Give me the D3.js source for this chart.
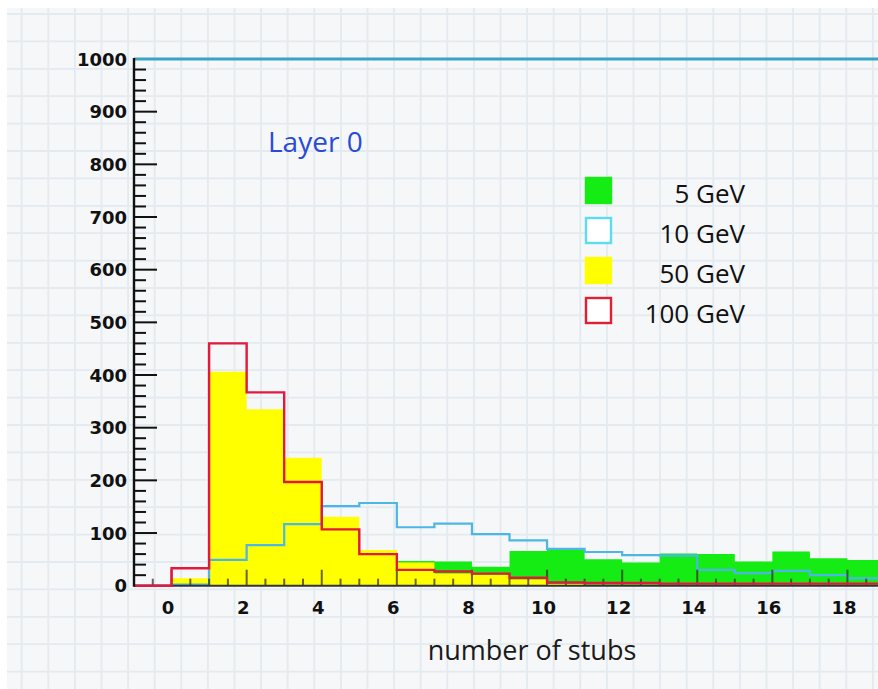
<!DOCTYPE html>
<html>
<head>
<meta charset="utf-8">
<script src="https://cdn.jsdelivr.net/npm/d3@7"></script>
<style>
  html, body { margin: 0; padding: 0; background: #fff; }
  svg { display: block; }
</style>
</head>
<body>
<div id="chart"></div>
<script>
// bin lower edges, each bin is one unit wide
var binLow = [-1, 0, 1, 2, 3, 4, 5, 6, 7, 8, 9, 10, 11, 12, 13, 14, 15, 16, 17, 18];

var gev5   = [0, 0, 2, 4, 8, 15, 25, 47, 46, 36, 66, 69, 50, 44, 61, 60, 46, 65, 52, 49];
var gev10  = [0, 2, 49, 77, 117, 151, 157, 111, 118, 98, 86, 70, 64, 58, 57, 30, 24, 28, 20, 14];
var gev50  = [0, 14, 406, 335, 243, 131, 68, 44, 23, 21, 12, 3, 2, 2, 1, 1, 1, 0, 0, 0];
var gev100 = [0, 33, 460, 367, 197, 107, 60, 30, 27, 23, 15, 6, 5, 5, 4, 4, 4, 4, 4, 4];

var xTicks = [0, 2, 4, 6, 8, 10, 12, 14, 16, 18];
var yTicks = [0, 100, 200, 300, 400, 500, 600, 700, 800, 900, 1000];

var legendNames = ["5 GeV", "10 GeV", "50 GeV", "100 GeV"];

var W = 878, H = 689;

var svg = d3.select("#chart").append("svg")
    .attr("width", W)
    .attr("height", H);

// graph paper background
svg.append("rect").attr("width", W).attr("height", H).attr("fill", "#fff");
svg.append("rect")
    .attr("x", 7).attr("y", 8)
    .attr("width", W - 7).attr("height", H - 8)
    .attr("fill", "#f5f7f9");

var paper = svg.append("g").attr("stroke", "#e3eaf0").attr("stroke-width", 1.8);
paper.selectAll("line.v").data(d3.range(21.7, W, 26.6)).join("line")
    .attr("x1", function(d) { return d; }).attr("x2", function(d) { return d; })
    .attr("y1", 8).attr("y2", H);
paper.selectAll("line.h").data(d3.range(14, H, 27.4)).join("line")
    .attr("y1", function(d) { return d; }).attr("y2", function(d) { return d; })
    .attr("x1", 7).attr("x2", W);

var x = d3.scaleLinear().domain([-1, 20]).range([134, 134 + 21 * 37.55]);
var y = d3.scaleLinear().domain([0, 1000]).range([585.7, 59]);

// step points for each series (repeat the last value so the last bin closes)
function steps(vals) {
  var pts = binLow.map(function(b, i) { return [b, vals[i]]; });
  pts.push([binLow[binLow.length - 1] + 1, vals[vals.length - 1]]);
  return pts;
}

var area = d3.area()
    .curve(d3.curveStepAfter)
    .x(function(d) { return x(d[0]); })
    .y0(y(0))
    .y1(function(d) { return y(d[1]); });

var line = d3.line()
    .curve(d3.curveStepAfter)
    .x(function(d) { return x(d[0]); })
    .y(function(d) { return y(d[1]); });

svg.append("path").attr("d", area(steps(gev5))).attr("fill", "#14ec14");
svg.append("path").attr("d", area(steps(gev50))).attr("fill", "#ffff00");
svg.append("path").attr("d", line(steps(gev10)))
    .attr("fill", "none").attr("stroke", "#4cb6e6").attr("stroke-width", 2.2);

// x axis ticks point up into the plot
var minorX = d3.range(-0.5, 19.6, 0.5);
svg.append("g").selectAll("line").data(minorX).join("line")
    .attr("x1", function(d) { return x(d); }).attr("x2", function(d) { return x(d); })
    .attr("y1", y(0))
    .attr("y2", function(d) { return d % 2 === 0 ? y(0) - 16 : y(0) - 7; })
    .attr("stroke", "#3a3320").attr("stroke-opacity", 0.75).attr("stroke-width", 2);

svg.append("line")
    .attr("x1", 134).attr("x2", W).attr("y1", y(0)).attr("y2", y(0))
    .attr("stroke", "#333").attr("stroke-width", 2);

svg.append("path").attr("d", line(steps(gev100)))
    .attr("fill", "none").attr("stroke", "#e2183e").attr("stroke-width", 2.4);

// top frame
svg.append("line")
    .attr("x1", 134).attr("x2", W).attr("y1", y(1000)).attr("y2", y(1000))
    .attr("stroke", "#3aa4c4").attr("stroke-width", 2.8);

// y axis
svg.append("line")
    .attr("x1", 134).attr("x2", 134).attr("y1", y(1000) - 1).attr("y2", y(0) + 1)
    .attr("stroke", "#111").attr("stroke-width", 2.4);

var minorY = d3.range(20, 1000, 20);
svg.append("g").selectAll("line").data(minorY).join("line")
    .attr("x1", 134)
    .attr("x2", function(d) { return d % 100 === 0 ? 157 : 146; })
    .attr("y1", function(d) { return y(d); }).attr("y2", function(d) { return y(d); })
    .attr("stroke", "#111").attr("stroke-width", 2);

svg.append("g").selectAll("text").data(yTicks).join("text")
    .attr("x", 127)
    .attr("y", function(d) { return y(d); })
    .attr("dy", "0.37em")
    .attr("text-anchor", "end")
    .style("font", "bold 18px 'DejaVu Sans'")
    .attr("fill", "#111")
    .text(function(d) { return d; });

svg.append("g").selectAll("text").data(xTicks).join("text")
    .attr("x", function(d) { return x(d) - 3.5; })
    .attr("y", 614)
    .attr("text-anchor", "middle")
    .style("font", "bold 18px 'DejaVu Sans'")
    .attr("fill", "#111")
    .text(function(d) { return d; });

svg.append("text")
    .attr("x", 532).attr("y", 660)
    .attr("text-anchor", "middle")
    .style("font", "27px 'Open Sans'")
    .attr("fill", "#1a1a1a")
    .text("number of stubs");

svg.append("text")
    .attr("x", 268).attr("y", 152)
    .style("font", "28px 'Open Sans'")
    .attr("fill", "#2a4bd4")
    .text("Layer 0");

// legend
var legendFill = ["#14ec14", "#fff", "#ffff00", "#fff"];
var legendStroke = ["#14ec14", "#5cdcf0", "#ffff00", "#e02030"];
var leg = svg.append("g").selectAll("g").data(legendNames).join("g")
    .attr("transform", function(d, i) { return "translate(0," + (i * 40) + ")"; });

leg.append("rect")
    .attr("x", 586).attr("y", 178)
    .attr("width", 25).attr("height", 25)
    .attr("fill", function(d, i) { return legendFill[i]; })
    .attr("stroke", function(d, i) { return legendStroke[i]; })
    .attr("stroke-width", 2.4);

leg.append("text")
    .attr("x", 745).attr("y", 203)
    .attr("text-anchor", "end")
    .style("font", "26px 'Open Sans'")
    .attr("fill", "#111")
    .text(function(d) { return d; });
</script>
</body>
</html>
